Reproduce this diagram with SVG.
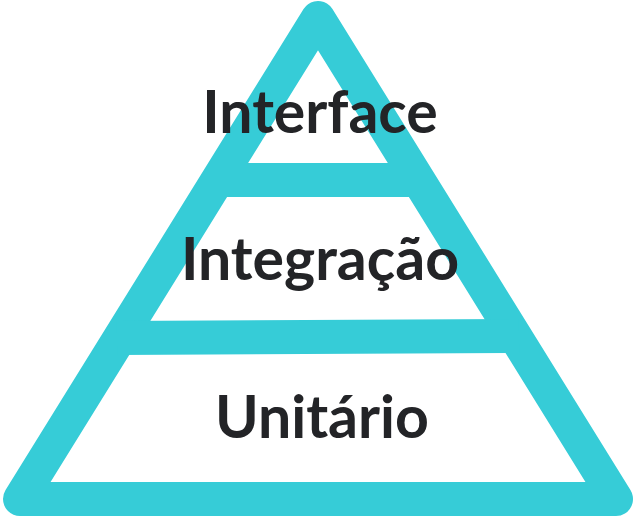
<svg xmlns="http://www.w3.org/2000/svg" width="635" height="518" viewBox="0 0 635 518">
<style>
.edge{fill:none;stroke:#36CCD7;stroke-width:34;stroke-linejoin:round;stroke-linecap:butt}
.lbl{font-family:Lato,"Open Sans",sans-serif;font-weight:700;font-size:59px;fill:#232427;text-anchor:middle}
</style>
<rect width="635" height="518" fill="#ffffff"/>
<g id="connectors">
<path class="edge" d="M318 18 L616 499 L20 499 Z"/>
<path class="edge" d="M214 180 L422 180"/>
<path class="edge" d="M117 338 L519 336"/>
</g>
<g id="node-interface"><text class="lbl" x="320" y="133">Interface</text></g>
<g id="node-integracao"><text class="lbl" x="320" y="280">Integração</text></g>
<g id="node-unitario"><text class="lbl" x="322" y="438">Unitário</text></g>
</svg>
